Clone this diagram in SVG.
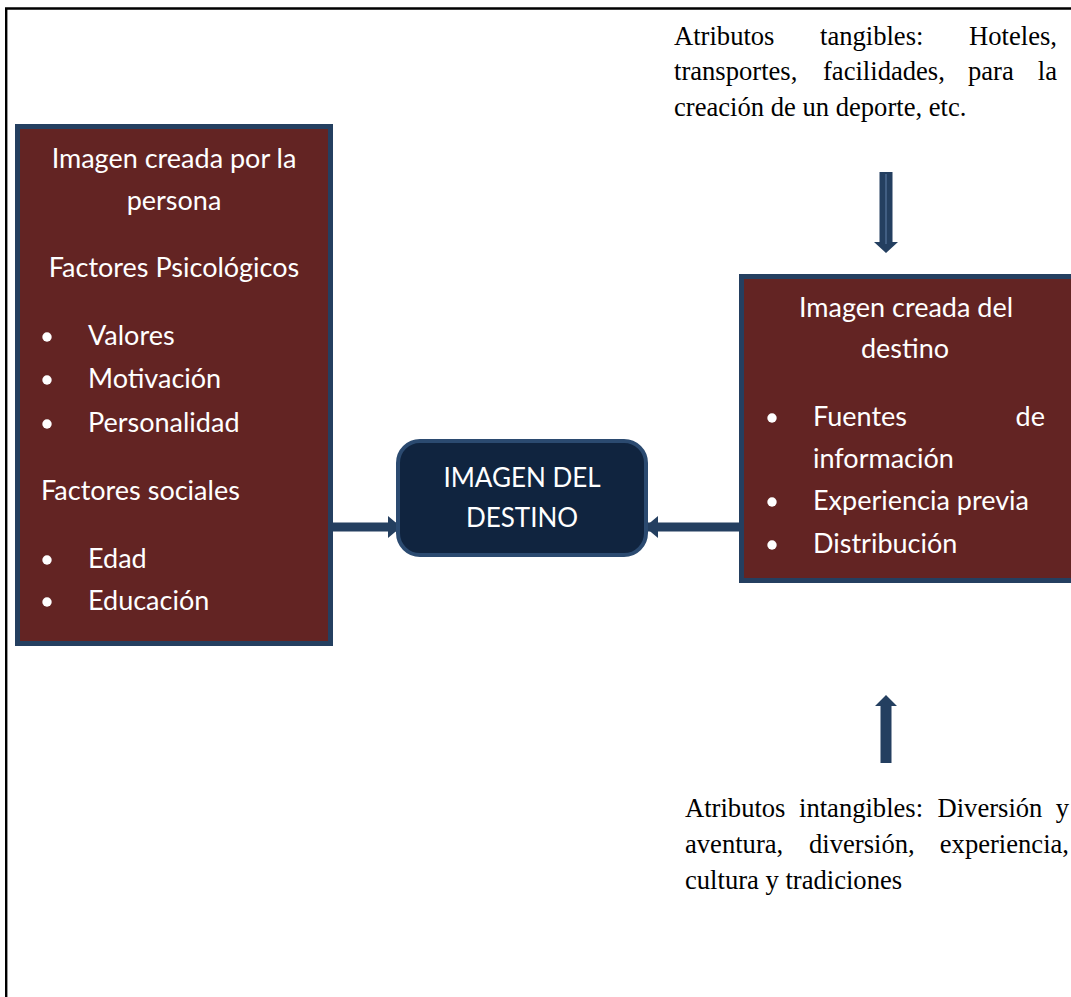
<svg xmlns="http://www.w3.org/2000/svg" width="1071" height="997" viewBox="0 0 1071 997">
  <style>
    .box { fill: #632423; stroke: #243F60; stroke-width: 5; }
    .center { fill: #10243F; stroke: #2B4A70; stroke-width: 4; }
    .t { font-family: Lato, "Open Sans", "Liberation Sans", sans-serif; font-size: 27px; fill: #FFFFFF; }
    .c { font-size: 26px; }
    .mid { text-anchor: middle; }
    .end { text-anchor: end; }
    .s { font-family: "Liberation Serif", "Times New Roman", serif; font-size: 26.6px; fill: #000000; }
    .bul { fill: #FFFFFF; }
    .conn { stroke: #243F60; stroke-width: 9; fill: none; }
    .blk { fill: #243F60; }
    .hl { stroke: #5F7EA6; stroke-width: 1; fill: none; }
  </style>
  <defs>
    <marker id="ah" markerUnits="userSpaceOnUse" markerWidth="14" markerHeight="22" viewBox="0 0 14 22" refX="12" refY="11" orient="auto">
      <path d="M0,0 L13,11 L0,22 Z" fill="#243F60"/>
    </marker>
  </defs>
  <rect x="0" y="0" width="1071" height="997" fill="#FFFFFF"/>
  <path d="M6.2,997 V8.5 H1071" fill="none" stroke="#000000" stroke-width="2.4"/>

  <g id="connectors">
    <line class="conn" x1="333" y1="527" x2="400" y2="527" marker-end="url(#ah)"/>
    <line class="conn" x1="739" y1="527" x2="646" y2="527" marker-end="url(#ah)"/>
    <polygon class="blk" points="879.5,172 892.5,172 892.5,242 898,242 886,253 874,242 879.5,242"/>
    <line class="hl" x1="886" y1="174" x2="886" y2="244"/>
    <polygon class="blk" points="886,695 897,706 891.5,706 891.5,763 880.5,763 880.5,706 875,706"/>
  </g>

  <g id="node-persona">
    <rect class="box" x="17.5" y="126.5" width="313" height="517"/>
    <text class="t mid" x="174" y="168">Imagen creada por la</text>
    <text class="t mid" x="174" y="210">persona</text>
    <text class="t mid" x="174" y="277">Factores Psicológicos</text>
    <circle class="bul" cx="47" cy="337" r="4.7"/>
    <text class="t" x="88" y="345">Valores</text>
    <circle class="bul" cx="47" cy="380" r="4.7"/>
    <text class="t" x="88" y="388">Motivación</text>
    <circle class="bul" cx="47" cy="424" r="4.7"/>
    <text class="t" x="88" y="432">Personalidad</text>
    <text class="t" x="41" y="500">Factores sociales</text>
    <circle class="bul" cx="47" cy="560" r="4.7"/>
    <text class="t" x="88" y="568">Edad</text>
    <circle class="bul" cx="47" cy="602" r="4.7"/>
    <text class="t" x="88" y="610">Educación</text>
  </g>

  <g id="node-imagen-destino">
    <rect class="center" x="398" y="441" width="248" height="114" rx="22" ry="22"/>
    <text class="t c mid" x="522" y="487">IMAGEN DEL</text>
    <text class="t c mid" x="522" y="527">DESTINO</text>
  </g>

  <g id="node-destino">
    <rect class="box" x="741.5" y="276.5" width="334" height="304"/>
    <text class="t mid" x="906" y="317">Imagen creada del</text>
    <text class="t mid" x="905" y="358">destino</text>
    <circle class="bul" cx="772" cy="418" r="4.7"/>
    <text class="t" x="813" y="426">Fuentes</text>
    <text class="t end" x="1045" y="426">de</text>
    <text class="t" x="813" y="468">información</text>
    <circle class="bul" cx="772" cy="502" r="4.7"/>
    <text class="t" x="813" y="510">Experiencia previa</text>
    <circle class="bul" cx="772" cy="545" r="4.7"/>
    <text class="t" x="813" y="553">Distribución</text>
  </g>

  <g id="node-tangibles">
    <text class="s" x="674" y="45">Atributos</text>
    <text class="s" x="820" y="45">tangibles:</text>
    <text class="s end" x="1057" y="45">Hoteles,</text>
    <text class="s" x="674" y="80">transportes,</text>
    <text class="s" x="823" y="80">facilidades,</text>
    <text class="s" x="968" y="80">para</text>
    <text class="s end" x="1057" y="80">la</text>
    <text class="s" x="674" y="116">creación de un deporte, etc.</text>
  </g>

  <g id="node-intangibles">
    <text class="s" x="685" y="817">Atributos</text>
    <text class="s" x="799" y="817">intangibles:</text>
    <text class="s" x="937.5" y="817">Diversión</text>
    <text class="s end" x="1069" y="817">y</text>
    <text class="s" x="685" y="853">aventura,</text>
    <text class="s" x="809" y="853">diversión,</text>
    <text class="s end" x="1069" y="853">experiencia,</text>
    <text class="s" x="685" y="889">cultura y tradiciones</text>
  </g>
</svg>
